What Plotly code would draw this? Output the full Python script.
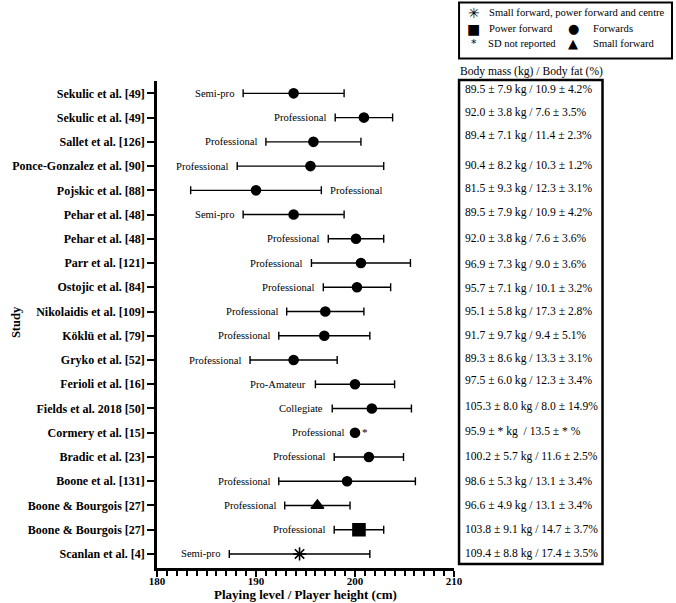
import plotly.graph_objects as go

studies = ["Sekulic et al. [49]", "Sekulic et al. [49]", "Sallet et al. [126]",
           "Ponce-Gonzalez et al. [90]", "Pojskic et al. [88]", "Pehar et al. [48]",
           "Pehar et al. [48]", "Parr et al. [121]", "Ostojic et al. [84]",
           "Nikolaidis et al. [109]", "Köklü et al. [79]", "Gryko et al. [52]",
           "Ferioli et al. [16]", "Fields et al. 2018 [50]", "Cormery et al. [15]",
           "Bradic et al. [23]", "Boone et al. [131]", "Boone & Bourgois [27]",
           "Boone & Bourgois [27]", "Scanlan et al. [4]"]
levels = ["Semi-pro", "Professional", "Professional", "Professional", "Professional",
          "Semi-pro", "Professional", "Professional", "Professional", "Professional",
          "Professional", "Professional", "Pro-Amateur", "Collegiate", "Professional",
          "Professional", "Professional", "Professional", "Professional", "Semi-pro"]
height = [193.8, 200.9, 195.8, 195.5, 190.0, 193.8, 200.1, 200.6, 200.2, 197.0,
          196.9, 193.8, 200.0, 201.7, 200.0, 201.4, 199.2, 196.2, 200.4, 194.4]
height_sd = [5.1, 2.9, 4.8, 7.4, 6.6, 5.1, 2.8, 5.0, 3.4, 3.9,
             4.6, 4.4, 4.0, 4.0, None, 3.5, 6.9, 3.3, 2.5, 7.1]
positions = ["Forwards"] * 17 + ["Small forward", "Power forward",
                                 "Small forward, power forward and centre"]
body = ["89.5 ± 7.9 kg / 10.9 ± 4.2%", "92.0 ± 3.8 kg / 7.6 ± 3.5%",
        "89.4 ± 7.1 kg / 11.4 ± 2.3%", "90.4 ± 8.2 kg / 10.3 ± 1.2%",
        "81.5 ± 9.3 kg / 12.3 ± 3.1%", "89.5 ± 7.9 kg / 10.9 ± 4.2%",
        "92.0 ± 3.8 kg / 7.6 ± 3.6%", "96.9 ± 7.3 kg / 9.0 ± 3.6%",
        "95.7 ± 7.1 kg / 10.1 ± 3.2%", "95.1 ± 5.8 kg / 17.3 ± 2.8%",
        "91.7 ± 9.7 kg / 9.4 ± 5.1%", "89.3 ± 8.6 kg / 13.3 ± 3.1%",
        "97.5 ± 6.0 kg / 12.3 ± 3.4%", "105.3 ± 8.0 kg / 8.0 ± 14.9%",
        "95.9 ± * kg  / 13.5 ± * %", "100.2 ± 5.7 kg / 11.6 ± 2.5%",
        "98.6 ± 5.3 kg / 13.1 ± 3.4%", "96.6 ± 4.9 kg / 13.1 ± 3.4%",
        "103.8 ± 9.1 kg / 14.7 ± 3.7%", "109.4 ± 8.8 kg / 17.4 ± 3.5%"]
x_ticks = [180, 190, 200, 210]

# style only: small vertical nudges of the table rows (px), as in the original layout
body_nudge = [4, 5, 6, 1, 2, 2, 0, -1, -1, 0, 0, 2, 4, 2, 1, 0, 0, 0, 0, 0]

symbols = {"Forwards": ("circle", 9),
           "Small forward": ("triangle-up", 11),
           "Power forward": ("square", 12),
           "Small forward, power forward and centre": ("asterisk-open", 11)}

SERIF = "Liberation Serif, Times New Roman, serif"
fig = go.Figure()
rows = list(range(len(studies)))

for pos, (sym, sz) in symbols.items():
    idx = [i for i in rows if positions[i] == pos]
    fig.add_trace(go.Scatter(
        x=[height[i] for i in idx], y=[i for i in idx], mode="markers",
        name=pos, showlegend=False,
        marker=dict(symbol=sym, size=sz, color="black",
                    line=dict(color="black", width=1.6)),
        error_x=dict(type="data", symmetric=True,
                     array=[height_sd[i] for i in idx],
                     color="black", thickness=1.4, width=4)))

LVL = dict(family=SERIF, size=10.6, color="black")
annotations = []
for i in rows:
    sd = height_sd[i]
    if sd is None:
        annotations.append(dict(x=height[i], y=i, text=levels[i], xref="x", yref="y",
                                xanchor="right", xshift=-9, showarrow=False, font=LVL))
        annotations.append(dict(x=height[i], y=i, text="*", xref="x", yref="y",
                                xanchor="left", xshift=5, yshift=1, showarrow=False,
                                font=dict(family=SERIF, size=11, color="black")))
    elif studies[i].startswith("Pojskic"):
        annotations.append(dict(x=height[i] + sd, y=i, text=levels[i], xref="x", yref="y",
                                xanchor="left", xshift=7, showarrow=False, font=LVL))
    else:
        annotations.append(dict(x=height[i] - sd, y=i, text=levels[i], xref="x", yref="y",
                                xanchor="right", xshift=-7, showarrow=False, font=LVL))
    annotations.append(dict(x=1.03, y=i, text=body[i], xref="paper", yref="y",
                            xanchor="left", showarrow=False, yshift=body_nudge[i],
                            font=dict(family=SERIF, size=11.6, color="black")))

annotations.append(dict(x=1.013, y=1.02, text="Body mass (kg) / Body fat (%)",
                        xref="paper", yref="paper", xanchor="left", yanchor="middle",
                        showarrow=False, font=dict(family=SERIF, size=11.6, color="black")))
annotations.append(dict(x=-0.505, y=0.505, text="<b>Study</b>", textangle=-90,
                        xref="paper", yref="paper", showarrow=False,
                        font=dict(family=SERIF, size=12.5, color="black")))
annotations.append(dict(x=0.5, y=-0.0554, text="<b>Playing level / Player height (cm)</b>",
                        xref="paper", yref="paper", xanchor="center", yanchor="middle",
                        showarrow=False, font=dict(family=SERIF, size=13, color="black")))

# legend drawn as a framed key
leg_items = [("<b>✳</b>", 1.067, 1.140, "Small forward, power forward and centre", 1.113, 14),
             ("■", 1.067, 1.107, "Power forward", 1.113, 14),
             ("*", 1.067, 1.078, "SD not reported", 1.111, 11),
             ("●", 1.401, 1.107, "Forwards", 1.465, 13),
             ("▲", 1.401, 1.078, "Small forward", 1.465, 13)]
for glyph, gx, gy, label, tx, gs in leg_items:
    annotations.append(dict(x=gx, y=gy, text=glyph, xref="paper", yref="paper",
                            showarrow=False, xanchor="center", yanchor="middle",
                            borderpad=0,
                            font=dict(family="DejaVu Sans", size=gs, color="black")))
    annotations.append(dict(x=tx, y=gy, text=label, xref="paper", yref="paper",
                            showarrow=False, xanchor="left", yanchor="middle",
                            borderpad=0,
                            font=dict(family=SERIF, size=10.6, color="black")))

shapes = [
    dict(type="rect", xref="paper", yref="paper", x0=1.017, x1=1.5, y0=0.008, y1=1.002,
         line=dict(color="black", width=2.5)),
    dict(type="rect", xref="paper", yref="paper", x0=1.017, x1=1.734, y0=1.046, y1=1.161,
         line=dict(color="black", width=2)),
]

fig.update_layout(
    width=676, height=603,
    margin=dict(l=157, r=222, t=81, b=35, autoexpand=False),
    plot_bgcolor="white", paper_bgcolor="white",
    annotations=annotations, shapes=shapes,
    font=dict(family=SERIF, color="black"),
    xaxis=dict(range=[180, 210], tickvals=x_ticks, ticktext=[f"<b>{v}</b>" for v in x_ticks],
               ticks="outside", ticklen=6, ticklabelstandoff=-5,
               tickwidth=2, tickcolor="black", showline=True, linewidth=2.5,
               linecolor="black", showgrid=False, zeroline=False, automargin=False,
               tickfont=dict(family=SERIF, size=11, color="black"),
               minor=dict(dtick=1, ticks="outside", ticklen=5, tickwidth=1.5,
                          tickcolor="black", showgrid=False)),
    yaxis=dict(range=[19.58, -0.51], tickvals=rows, ticktext=[f"<b>{s}</b>" for s in studies],
               ticks="outside", ticklen=7, tickwidth=2, tickcolor="black",
               showline=True, linewidth=2.5, linecolor="black", showgrid=False,
               zeroline=False, automargin=False,
               tickfont=dict(family=SERIF, size=12, color="black")),
)

fig.write_html("out.html", config={"displayModeBar": False},
               post_script="document.body.style.margin='0';")
